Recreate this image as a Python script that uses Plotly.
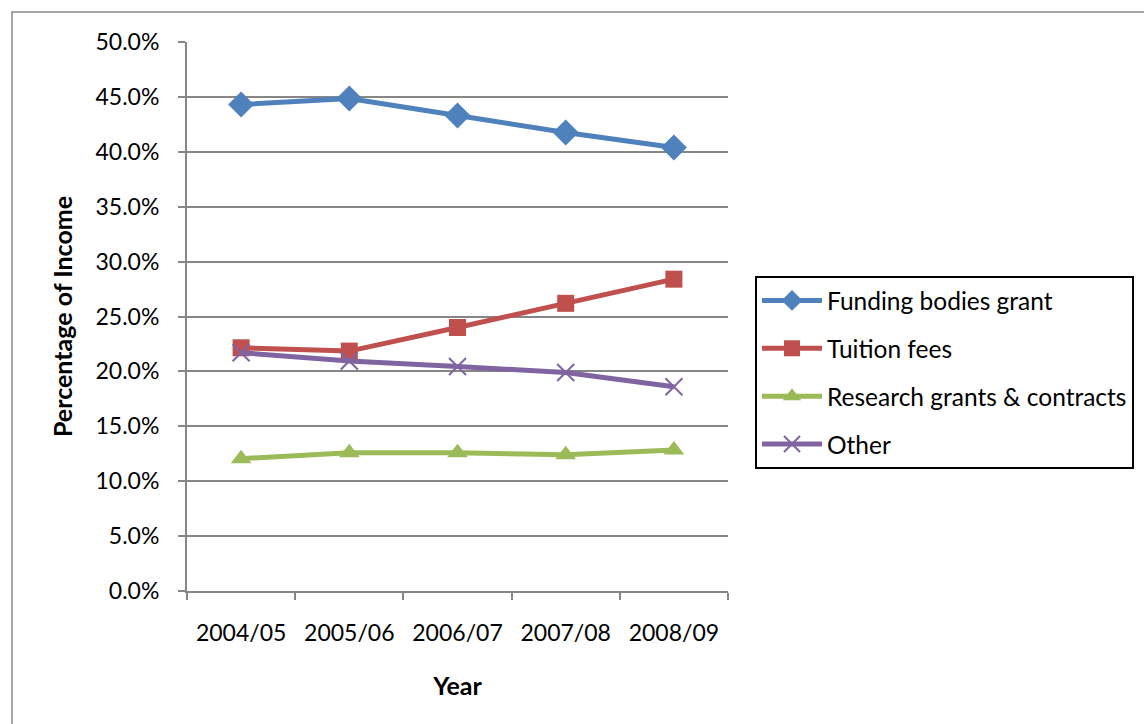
import plotly.graph_objects as go

years = ["2004/05", "2005/06", "2006/07", "2007/08", "2008/09"]
funding = [44.3, 44.85, 43.3, 41.75, 40.4]
tuition = [22.15, 21.85, 24.0, 26.2, 28.4]
research = [12.05, 12.6, 12.6, 12.4, 12.85]
other = [21.7, 20.95, 20.45, 19.9, 18.6]
yticks = [0, 5, 10, 15, 20, 25, 30, 35, 40, 45, 50]
ytick_labels = ["%.1f%%" % v for v in yticks]

series = [
    ("Funding bodies grant", funding, "#4F81BD", "diamond", 20, 0),
    ("Tuition fees", tuition, "#C0504D", "square", 17, 0),
    ("Research grants & contracts", research, "#9BBB59", "triangle-up", 18, 0),
    ("Other", other, "#8064A2", "x-thin", 17, 2),
]

FONT = "Lato, Calibri, sans-serif"
fig = go.Figure()
for i, (name, vals, col, sym, sz, lw) in enumerate(series):
    marker = dict(symbol=sym, size=sz, color=col)
    if lw:
        marker["line"] = dict(color=col, width=lw)
    fig.add_trace(go.Scatter(
        x=years, y=vals, name=name, mode="lines+markers",
        line=dict(color=col, width=5), marker=marker,
        legendgroup="g%d" % i,
    ))

W, H = 1144, 724
L, R, T, B = 187, 728, 42, 591
fig.update_layout(
    width=W, height=H,
    margin=dict(l=L, r=W - R, t=T, b=H - B, autoexpand=False),
    paper_bgcolor="white", plot_bgcolor="white",
    font=dict(family=FONT, size=23, color="#000000"),
    legend=dict(
        x=(755 - L) / (R - L), y=(B - 276) / (B - T), xanchor="left", yanchor="top",
        bordercolor="#000000", borderwidth=2, font=dict(size=24.5),
        traceorder="grouped", tracegroupgap=13, itemwidth=60,
    ),
    xaxis=dict(
        type="category", range=[-0.5, 4.5], showgrid=False,
        showline=True, linecolor="#868686", linewidth=2,
        ticks="outside", ticklen=7, tickcolor="#868686", tickwidth=2,
        tickson="boundaries", ticklabelstandoff=20,
        title=dict(text="<b>Year</b>", font=dict(size=25), standoff=33),
    ),
    yaxis=dict(
        range=[0, 50], tickvals=yticks, ticktext=ytick_labels,
        showgrid=True, gridcolor="#868686", gridwidth=2,
        showline=True, linecolor="#868686", linewidth=2,
        ticks="outside", ticklen=7, tickcolor="#868686", tickwidth=2,
        ticklabelstandoff=14, zeroline=False,
        title=dict(text="<b>Percentage of Income</b>", font=dict(size=25), standoff=16),
    ),
)

# outer chart border (extends beyond the visible window on right/bottom)
fig.add_shape(
    type="rect", xref="paper", yref="paper",
    x0=(12 - L) / (R - L), x1=(1160 - L) / (R - L),
    y0=(B - 740) / (B - T), y1=(B - 12) / (B - T),
    line=dict(color="#898989", width=1.5), fillcolor="rgba(0,0,0,0)", layer="below",
)

fig.write_html("out.html")
